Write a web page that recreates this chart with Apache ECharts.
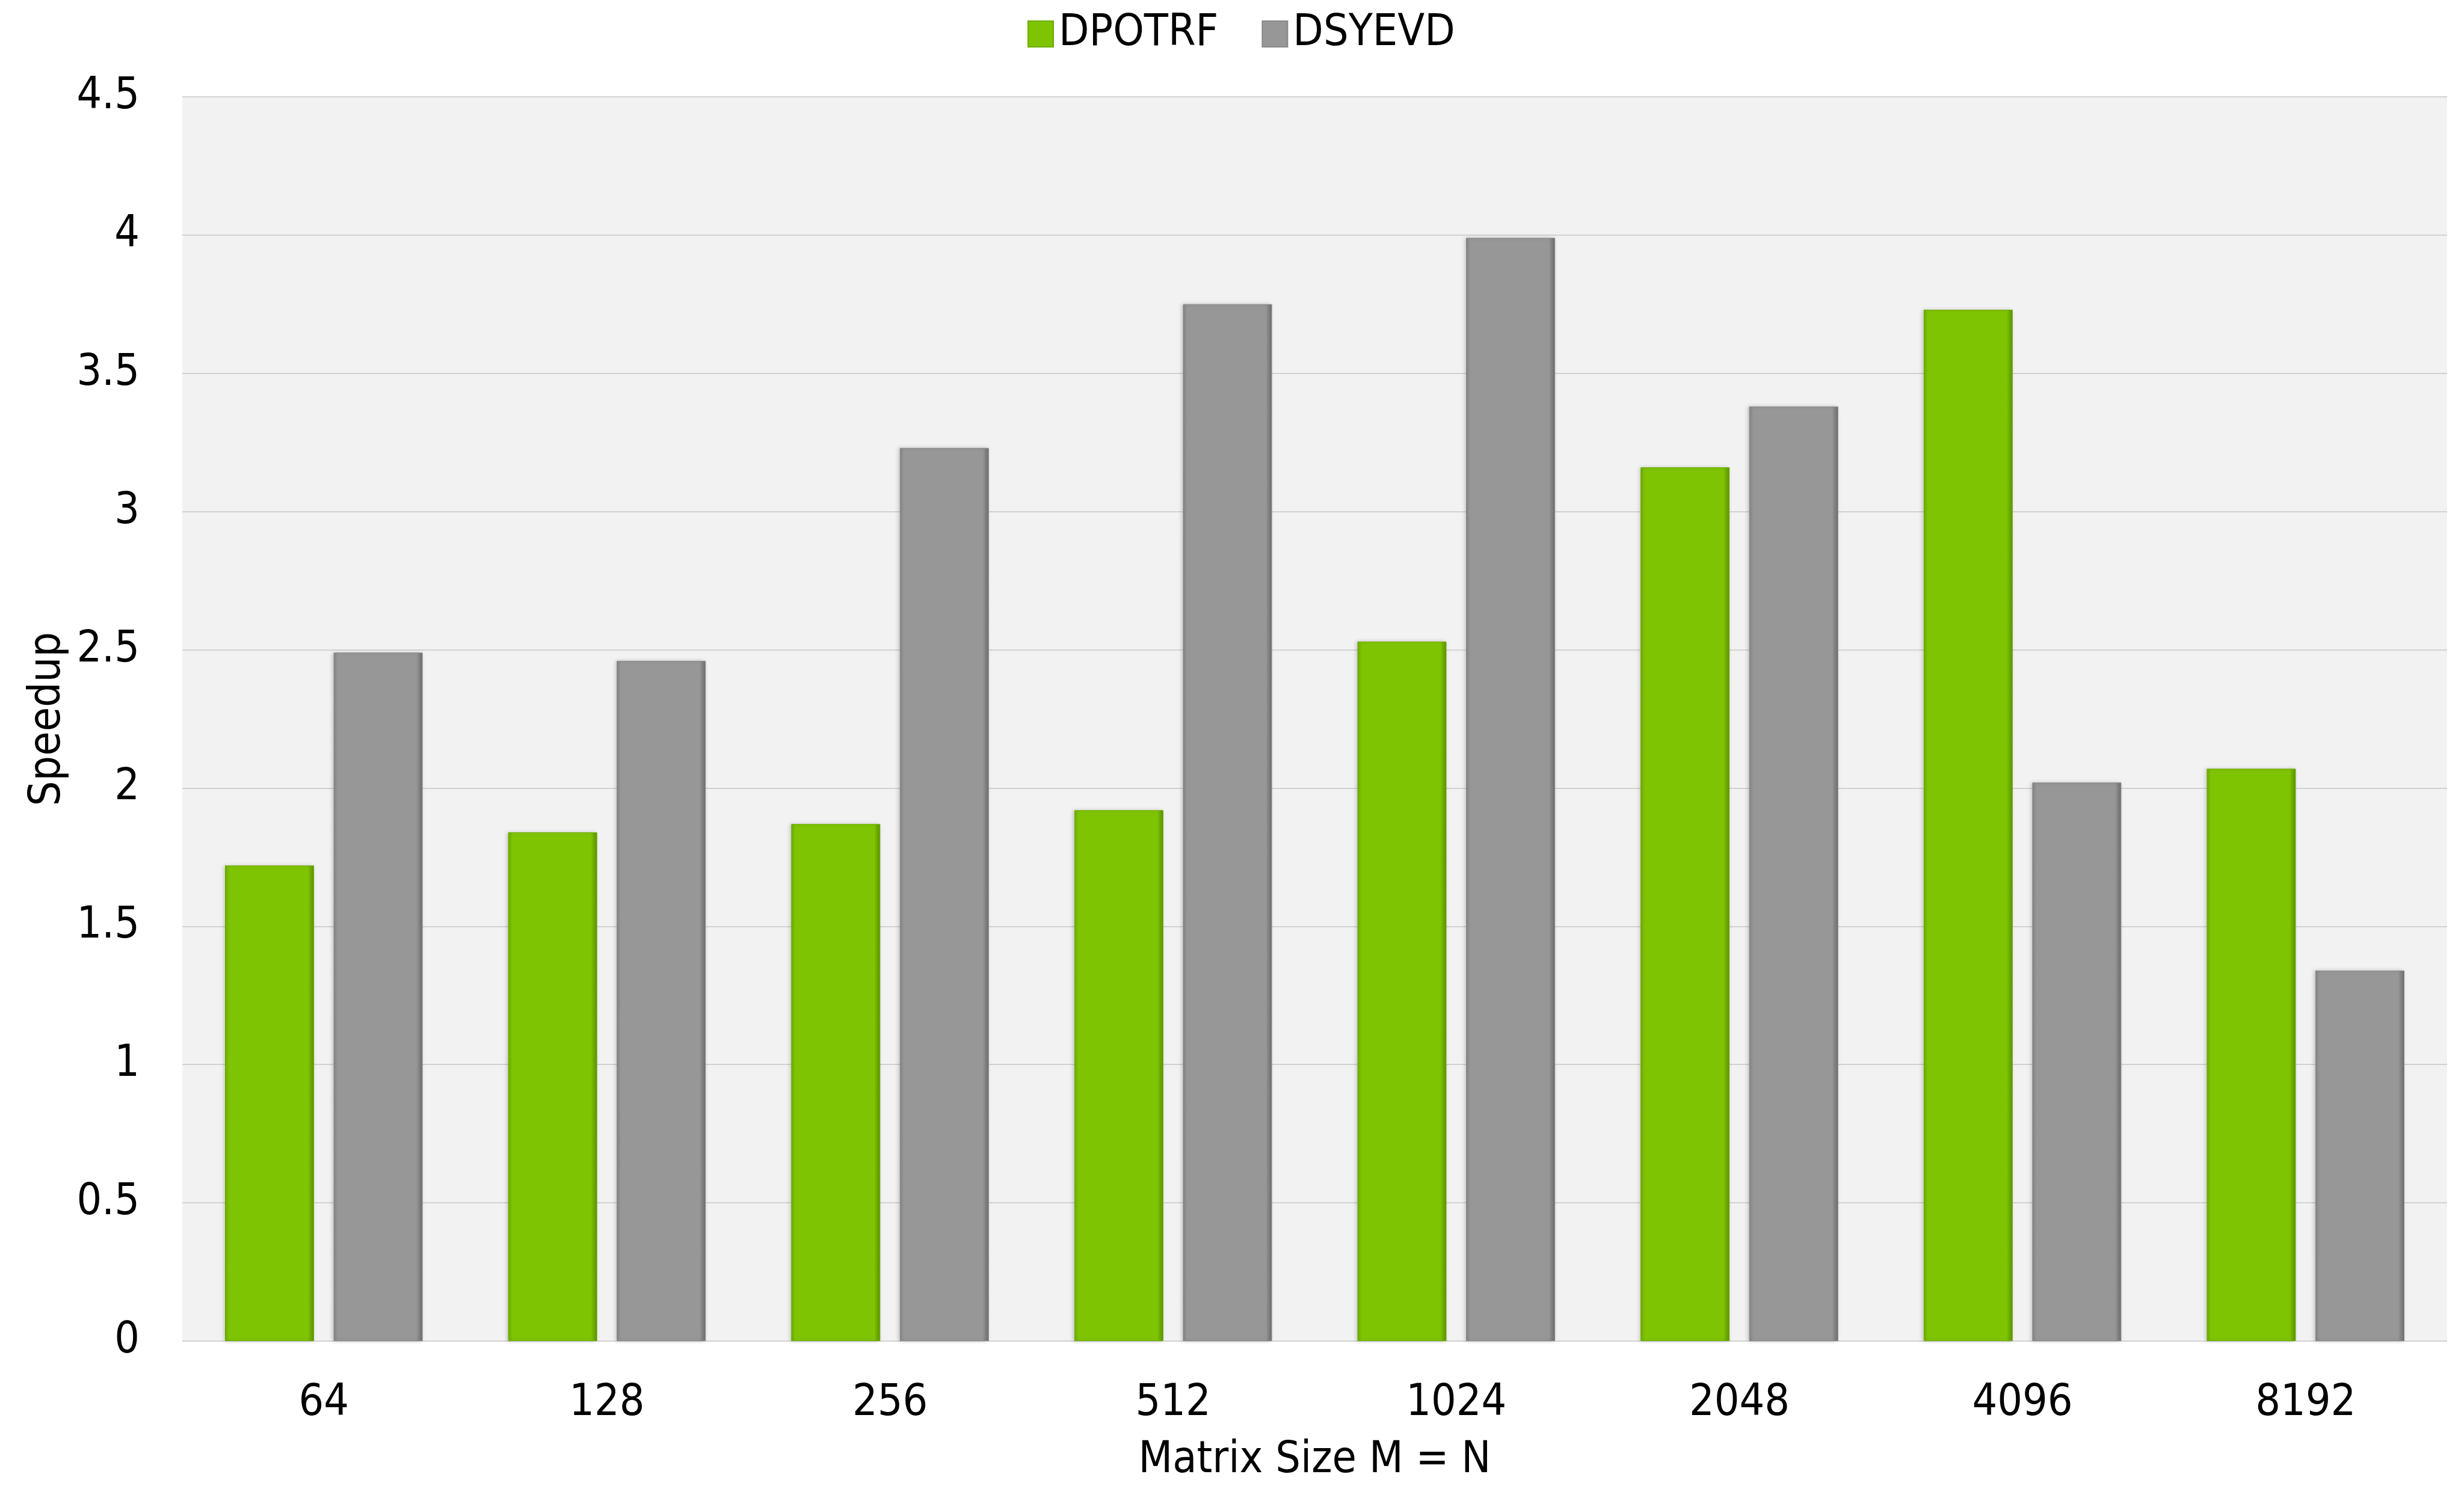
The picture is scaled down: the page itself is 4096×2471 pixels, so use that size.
<!DOCTYPE html>
<html>
<head>
<meta charset="utf-8">
<title>DPOTRF / DSYEVD speedup</title>
<script src="https://cdn.jsdelivr.net/npm/echarts@6/dist/echarts.min.js"></script>
<style>
  html, body { margin: 0; padding: 0; background: #ffffff; }
  #chart { width: 4096px; height: 2471px; }
</style>
</head>
<body>
<div id="chart"></div>
<script>
// Matrix sizes (M = N) along the x axis
const matrixSizes = ['64', '128', '256', '512', '1024', '2048', '4096', '8192'];

// Speedup per routine
const dpotrfSpeedup = [1.72, 1.84, 1.87, 1.92, 2.53, 3.16, 3.73, 2.07];
const dsyevdSpeedup = [2.49, 2.46, 3.23, 3.75, 3.99, 3.38, 2.02, 1.34];

// Y axis range and step
const yMin = 0;
const yMax = 4.5;
const yStep = 0.5;

const FONT = "'DejaVu Sans Condensed', 'Liberation Sans Narrow', sans-serif";
const FS = 73;

// Bar fill with darker side edges for a bevelled look
function bevel(edgeL, main, edgeR) {
  return new echarts.graphic.LinearGradient(0, 0, 1, 0, [
    { offset: 0, color: edgeL },
    { offset: 0.05, color: main },
    { offset: 0.93, color: main },
    { offset: 1, color: edgeR }
  ]);
}

const chart = echarts.init(document.getElementById('chart'), null, { renderer: 'canvas' });

chart.setOption({
  backgroundColor: '#ffffff',
  animation: false,
  textStyle: { fontFamily: FONT, color: '#000000' },
  legend: {
    top: 15,
    left: 1703,
    itemWidth: 42,
    itemHeight: 43,
    itemGap: 72,
    icon: 'rect',
    textStyle: { fontFamily: FONT, fontSize: FS, color: '#000000', padding: [0, 0, 0, 4] },
    data: ['DPOTRF', 'DSYEVD']
  },
  grid: {
    left: 303,
    right: 28,
    top: 161,
    bottom: 224,
    show: true,
    backgroundColor: '#f2f2f2',
    borderWidth: 0,
    containLabel: false
  },
  xAxis: {
    type: 'category',
    data: matrixSizes,
    name: 'Matrix Size M = N',
    nameLocation: 'middle',
    nameGap: 163,
    nameTextStyle: { fontFamily: FONT, fontSize: FS, color: '#000000' },
    axisLine: { show: false },
    axisTick: { show: false },
    axisLabel: { fontFamily: FONT, fontSize: FS, color: '#000000', margin: 68 },
    splitLine: { show: false }
  },
  yAxis: {
    type: 'value',
    min: yMin,
    max: yMax,
    interval: yStep,
    name: 'Speedup',
    nameLocation: 'middle',
    nameGap: 185,
    nameRotate: 90,
    nameTextStyle: { fontFamily: FONT, fontSize: FS, color: '#000000' },
    axisLine: { show: false },
    axisTick: { show: false },
    axisLabel: { fontFamily: FONT, fontSize: FS, color: '#000000', margin: 71 },
    splitLine: { show: true, lineStyle: { color: '#d2d2d2', width: 2 } }
  },
  series: [
    {
      name: 'DPOTRF',
      type: 'bar',
      data: dpotrfSpeedup,
      barWidth: 148,
      barGap: '22%',
      itemStyle: {
        color: bevel('#6cab00', '#7fc402', '#5c9400'),
        borderColor: '#6fae00',
        borderWidth: 1,
        shadowColor: 'rgba(0,0,0,0.18)',
        shadowBlur: 6,
        shadowOffsetX: -2
      }
    },
    {
      name: 'DSYEVD',
      type: 'bar',
      data: dsyevdSpeedup,
      barWidth: 148,
      barGap: '22%',
      itemStyle: {
        color: bevel('#858585', '#979797', '#6e6e6e'),
        borderColor: '#888888',
        borderWidth: 1,
        shadowColor: 'rgba(0,0,0,0.18)',
        shadowBlur: 6,
        shadowOffsetX: -2
      }
    }
  ]
});
</script>
</body>
</html>
